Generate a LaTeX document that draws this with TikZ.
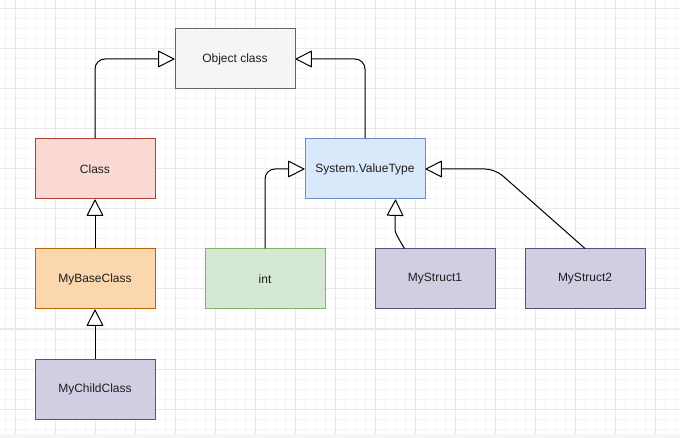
\documentclass[tikz,border=0pt]{standalone}
\usepackage{fontspec}
\setmainfont{Liberation Sans}
\usetikzlibrary{arrows.meta}
\definecolor{gridmajor}{HTML}{E8E8E8}
\definecolor{gridminor}{HTML}{F5F5F5}
\definecolor{objfill}{HTML}{F5F5F5}\definecolor{objdraw}{HTML}{666666}
\definecolor{clsfill}{HTML}{FAD9D5}\definecolor{clsdraw}{HTML}{AE4132}
\definecolor{basefill}{HTML}{FAD7AC}\definecolor{basedraw}{HTML}{B46504}
\definecolor{purfill}{HTML}{D0CEE2}\definecolor{purdraw}{HTML}{56517E}
\definecolor{vtfill}{HTML}{DAE8FC}\definecolor{vtdraw}{HTML}{6C8EBF}
\definecolor{intfill}{HTML}{D5E8D4}\definecolor{intdraw}{HTML}{82B366}
\definecolor{txt}{HTML}{1E1E1E}
\definecolor{strip}{HTML}{F5F6F8}
\begin{document}
\begin{tikzpicture}[x=1pt,y=-1pt,
  box/.style={rectangle,minimum width=120pt,minimum height=60pt,inner sep=0pt,line width=1pt,font=\fontsize{12pt}{14pt}\selectfont,text=txt},
  inh/.style={line width=1pt,black,rounded corners=10pt,-{Triangle[length=17pt,width=17pt,fill=white,line width=1pt,round]}},
]
\useasboundingbox (0,0) rectangle (680,438);
\fill[white] (0,0) rectangle (680,438);
% grid
\foreach \x in {5,15,...,675} \draw[gridminor,line width=1pt] (\x,0) -- (\x,434);
\foreach \y in {9,19,...,429} \draw[gridminor,line width=1pt] (0,\y) -- (680,\y);
\foreach \x in {15,55,...,655} \draw[gridmajor,line width=1pt] (\x,0) -- (\x,434);
\foreach \y in {9,49,...,409} \draw[gridmajor,line width=1pt] (0,\y) -- (680,\y);
\fill[strip] (0,434) rectangle (680,438);
% nodes
\node[box,fill=objfill,draw=objdraw] (obj) at (235,59) {Object class};
\node[box,fill=clsfill,draw=clsdraw] (cls) at (95,169) {Class};
\node[box,fill=basefill,draw=basedraw] (base) at (95,279) {MyBaseClass};
\node[box,fill=purfill,draw=purdraw] (child) at (95,389) {MyChildClass};
\node[box,fill=vtfill,draw=vtdraw] (vt) at (365,169) {System.ValueType};
\node[box,fill=intfill,draw=intdraw] (int) at (265,279) {int};
\node[box,fill=purfill,draw=purdraw] (ms1) at (435,279) {MyStruct1};
\node[box,fill=purfill,draw=purdraw] (ms2) at (585,279) {MyStruct2};
\coordinate (c2) at (495,169);
% edges
\draw[inh] (cls.north) |- (obj.west);
\draw[inh] (vt.north) |- (obj.east);
\draw[inh] (base.north) -- (cls.south);
\draw[inh] (child.north) -- (base.south);
\draw[inh] (int.north) |- (vt.west);
\draw[inh] ([xshift=30pt]ms1.north west) .. controls (398,238) and (395,232) .. (395,220) -- ([xshift=-30pt]vt.south east);
\draw[inh] (ms2.north) -- (c2) -- (vt.east);
\end{tikzpicture}
\end{document}
